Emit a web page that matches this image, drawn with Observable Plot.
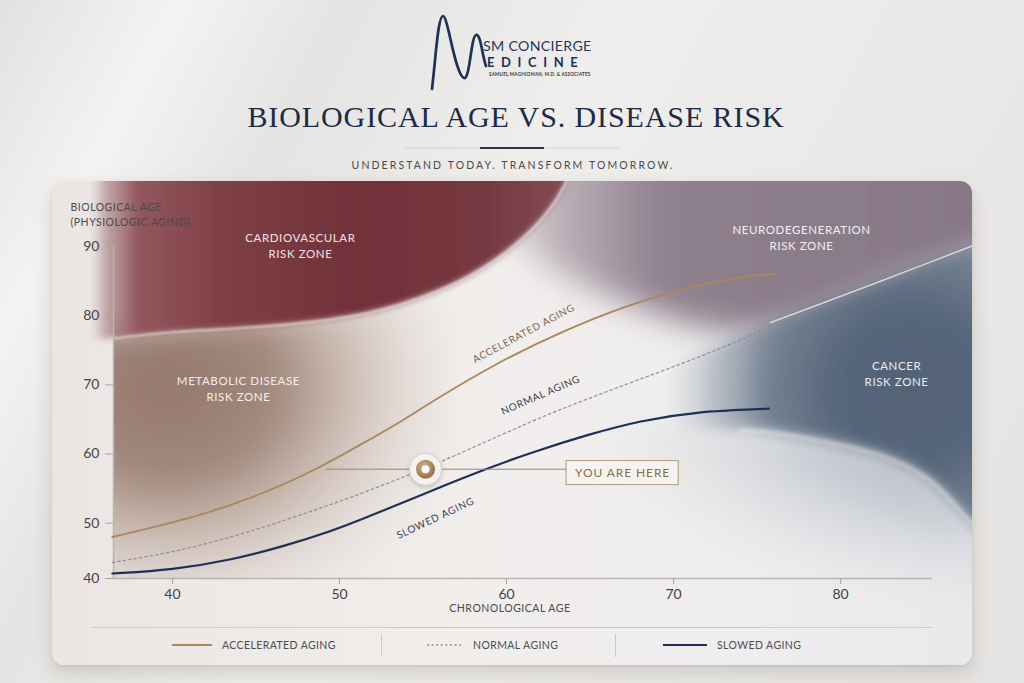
<!DOCTYPE html>
<html>
<head>
<meta charset="utf-8">
<script src="https://cdn.jsdelivr.net/npm/d3@7"></script>
<script src="https://cdn.jsdelivr.net/npm/@observablehq/plot@0.6"></script>
<style>
html,body{margin:0;padding:0;}
body{width:1024px;height:683px;overflow:hidden;position:relative;font-family:Lato,"Open Sans",sans-serif;
  background:linear-gradient(118deg,#e3e1df 0%,#f4f3f1 13%,#e6e4e2 25%,#efeeec 45%,#ebe9e7 70%,#e5e3e1 100%);}
#header{position:absolute;left:0;top:0;}
#card{position:absolute;left:52px;top:181px;width:920px;height:484px;border-radius:12px;overflow:hidden;
  background:linear-gradient(90deg,#ebe6e4 0%,#f1eeec 45%,#efedee 75%,#e9e9eb 100%);
  box-shadow:0 8px 18px rgba(60,50,40,0.17),0 1px 3px rgba(0,0,0,0.08);}
#chart{position:absolute;left:0;top:0;}
#legend{position:absolute;left:40px;top:446px;width:840px;height:38px;border-top:1px solid #cfcac6;}
.lg-item{position:absolute;top:0;height:34px;display:flex;align-items:center;}
.lg-text{font-size:10.5px;color:#4d4d4d;letter-spacing:0.4px;white-space:nowrap;}
.lg-sep{position:absolute;top:6px;width:1px;height:23px;background:#cfcac6;}
g[aria-description="zone-label"] text{letter-spacing:0.6px;}
g[aria-description="line-label"] text{letter-spacing:0.7px;}
g[aria-description="you-label"] text{letter-spacing:0.9px;}
g[aria-description="axis-title"] text{letter-spacing:0.5px;}
g[aria-description="zone-metab"]{filter:url(#fBlur14);}
g[aria-description="zone-lowblue"]{filter:url(#fBlur12);}
g[aria-description="zone-neuro"]{filter:url(#fBlur16);}
g[aria-description="zone-cardio"]{filter:url(#fBlur3);}
g[aria-description="zone-cancer"]{filter:url(#fBlur7);}
g[aria-description="rim"]{filter:url(#fBlur1);}
g[aria-description="rim-soft"]{filter:url(#fBlur2);}
g[aria-description="halo"]{filter:url(#fShadow);}
</style>
</head>
<body>
<svg width="0" height="0" style="position:absolute">
  <defs>
    <filter id="fBlur1" x="-20%" y="-20%" width="140%" height="140%"><feGaussianBlur stdDeviation="1.2"/></filter>
    <filter id="fBlur2" x="-20%" y="-20%" width="140%" height="140%"><feGaussianBlur stdDeviation="2"/></filter>
    <filter id="fBlur3" x="-20%" y="-20%" width="140%" height="140%"><feGaussianBlur stdDeviation="3"/></filter>
    <filter id="fBlur7" x="-20%" y="-20%" width="140%" height="140%"><feGaussianBlur stdDeviation="7"/></filter>
    <filter id="fBlur12" x="-30%" y="-30%" width="160%" height="160%"><feGaussianBlur stdDeviation="12"/></filter>
    <filter id="fBlur14" x="-30%" y="-30%" width="160%" height="160%"><feGaussianBlur stdDeviation="14"/></filter>
    <filter id="fBlur16" x="-30%" y="-30%" width="160%" height="160%"><feGaussianBlur stdDeviation="16"/></filter>
    <filter id="fShadow" x="-50%" y="-50%" width="200%" height="200%"><feDropShadow dx="0" dy="2" stdDeviation="2.2" flood-color="#6b5a48" flood-opacity="0.3"/></filter>
    <linearGradient id="gCardio" x1="0" x2="1" y1="0" y2="0">
      <stop offset="0" stop-color="#dccaca" stop-opacity="0"/>
      <stop offset="0.035" stop-color="#b08b8e" stop-opacity="0.7"/>
      <stop offset="0.1" stop-color="#93585e"/>
      <stop offset="0.28" stop-color="#7e3f46"/>
      <stop offset="0.56" stop-color="#723139"/>
      <stop offset="0.82" stop-color="#763840"/>
      <stop offset="1" stop-color="#844d54"/>
    </linearGradient>
    <radialGradient id="gMetab" cx="0.28" cy="0.32" r="0.78">
      <stop offset="0" stop-color="#8f7164" stop-opacity="0.95"/>
      <stop offset="0.35" stop-color="#9a7f72" stop-opacity="0.9"/>
      <stop offset="0.6" stop-color="#b9a497" stop-opacity="0.6"/>
      <stop offset="0.85" stop-color="#d8cbc2" stop-opacity="0.25"/>
      <stop offset="1" stop-color="#e2d8d1" stop-opacity="0"/>
    </radialGradient>
    <linearGradient id="gNeuro" x1="0" x2="1" y1="0" y2="0">
      <stop offset="0" stop-color="#c4b8bf" stop-opacity="0"/>
      <stop offset="0.15" stop-color="#a596a1" stop-opacity="0.7"/>
      <stop offset="0.33" stop-color="#8f808e"/>
      <stop offset="1" stop-color="#867684"/>
    </linearGradient>
    <radialGradient id="gCancer" cx="0.65" cy="0.46" r="0.72">
      <stop offset="0" stop-color="#536276"/>
      <stop offset="0.3" stop-color="#58677b"/>
      <stop offset="0.55" stop-color="#758293"/>
      <stop offset="0.76" stop-color="#a7afba" stop-opacity="0.7"/>
      <stop offset="0.95" stop-color="#d0d4d9" stop-opacity="0"/>
    </radialGradient>
    <radialGradient id="gLowBlue" cx="0.95" cy="0" r="1">
      <stop offset="0" stop-color="#97a2b0" stop-opacity="0.95"/>
      <stop offset="0.5" stop-color="#b7bec8" stop-opacity="0.7"/>
      <stop offset="1" stop-color="#dfe1e4" stop-opacity="0"/>
    </radialGradient>
    <radialGradient id="gGold" cx="0.4" cy="0.35" r="0.7">
      <stop offset="0" stop-color="#cdae84"/>
      <stop offset="0.6" stop-color="#ad8a5e"/>
      <stop offset="1" stop-color="#8e6c45"/>
    </radialGradient>
  </defs>
</svg>

<svg id="header" width="1024" height="180">
  <path d="M432,89 C436,55 438,16 443,16 C448,16 455,75 464,78 C470,80 471,36 476,35 C481,34 482,55 486,66" fill="none" stroke="#1f3158" stroke-width="2.7" stroke-linecap="round"/>
  <text x="483" y="51" font-family="Lato" font-size="14.2" fill="#26385c" letter-spacing="0.3">SM CONCIERGE</text>
  <text x="487" y="67" font-family="Lato" font-size="13" font-weight="700" fill="#1f3158" letter-spacing="6.6">EDICINE</text>
  <text x="489" y="76" font-family="Lato" font-size="4.6" font-weight="700" fill="#3a3a3a" letter-spacing="0.2">SAMUEL MAGHIOMAN, M.D. &amp; ASSOCIATES</text>
  <text id="title" x="516" y="127" text-anchor="middle" font-family="'Liberation Serif', serif" font-size="30" fill="#1f2b45" letter-spacing="0.9"></text>
  <line x1="405" x2="618" y1="148" y2="148" stroke="#d3d0cc"/>
  <line x1="480" x2="544" y1="148" y2="148" stroke="#2a3552" stroke-width="2"/>
  <text id="subtitle" x="513" y="169" text-anchor="middle" font-family="Lato" font-size="10.5" fill="#4a4a4a" letter-spacing="2.1"></text>
</svg>

<div id="card">
  <div id="chart"></div>
  <div id="legend"></div>
</div>

<script>
// ---------------- data ----------------
const titleText = "BIOLOGICAL AGE VS. DISEASE RISK";
const subtitleText = "UNDERSTAND TODAY. TRANSFORM TOMORROW.";
const yTitle = "BIOLOGICAL AGE\n(PHYSIOLOGIC AGING)";
const xTitle = "CHRONOLOGICAL AGE";

const xTicks = [40, 50, 60, 70, 80];
const yTicks = [40, 50, 60, 70, 80, 90];

const acceleratedAge = [36.4, 40, 43.6, 46.6, 48.7, 51.3, 53.5, 55.6, 59.6, 63.2, 67.2, 71.2, 74.2, 76.2];
const acceleratedBio = [47.5, 50.0, 52.6, 55.5, 57.9, 61.4, 64.4, 67.7, 73.4, 77.6, 81.5, 84.4, 85.7, 86.1];
const normalAge = [36.4, 40, 43.6, 46.6, 49.5, 51.3, 55.2, 59.6, 63.2, 67.2, 71.2, 74.2, 77.0];
const normalBio = [42.9, 44.7, 47.5, 50.3, 52.7, 54.3, 57.9, 62.7, 66.5, 70.1, 73.7, 76.6, 79.9];
const slowedAge = [36.4, 40, 43.6, 46.6, 49.6, 51.3, 55.6, 59.0, 61.4, 65.0, 68.0, 71.2, 75.7];
const slowedBio = [40.9, 41.55, 43.4, 45.75, 48.65, 50.5, 54.8, 58.05, 60.15, 62.9, 64.8, 66.1, 66.55];

const seriesNames = ["ACCELERATED AGING", "NORMAL AGING", "SLOWED AGING"];

// risk zone boundaries (chronological age, biological age)
const cardioAge = [35.0, 36.47, 40.0, 44.67, 50.66, 54.85, 57.84, 60.84, 62.93, 64.0];
const cardioLow = [76.5, 76.7, 77.6, 78.3, 79.9, 82.6, 85.8, 90.9, 96.6, 101.5];
const metabAge = [33, 36.47, 40, 44, 48, 52, 55, 57];
const metabHigh = [78, 78, 78.6, 79.4, 80.5, 82, 83.5, 85];
const neuroAge = [58, 62, 66, 70, 74, 78, 82, 87, 92];
const neuroLow = [95, 88, 83, 79.5, 77.5, 79, 83, 87.5, 92];
const cancerAge = [70, 72, 74, 75.8, 79, 82.4, 85, 86.6, 88, 90, 92];
const cancerTop = [73.0, 75.0, 77.2, 79.0, 81.9, 85.0, 87.4, 88.9, 90.2, 92.0, 93.8];
const cancerLow = [63.6, 63.6, 63.4, 63.1, 61.8, 59.8, 56.8, 53.3, 49.5, 44, 38];
const lowBlueAge = [66, 70, 74, 78, 82, 85, 87, 89, 92];
const lowBlueTop = [64.5, 64.2, 63.5, 62.6, 60.5, 57, 52.5, 46, 38];
const zoneCeil = 108;
const zoneFloor = 34;

const zoneNames = ["CARDIOVASCULAR\nRISK ZONE", "METABOLIC DISEASE\nRISK ZONE", "NEURODEGENERATION\nRISK ZONE", "CANCER\nRISK ZONE"];
const zoneLabelAge = [47.66, 43.95, 77.66, 83.35];
const zoneLabelBio = [90.3, 69.5, 91.4, 71.7];

const lineLabelAge = [61.03, 62.04, 55.75];
const lineLabelBio = [77.4, 68.5, 50.7];
const lineLabelRotate = [-28, -23.5, -25];

const youAge = 55.15, youBio = 57.8;
const youText = "YOU ARE HERE";
const leaderFrom = 49.2, leaderTo = 63.65, youLabelAge = 66.95;
const xTitleAge = 60.2;

// ---------------- build ----------------
document.getElementById("title").textContent = titleText;
document.getElementById("subtitle").textContent = subtitleText;

const zip = (a, b, k1, k2) => a.map((v, i) => ({[k1]: v, [k2]: b[i]}));
const accelerated = zip(acceleratedAge, acceleratedBio, "age", "bio");
const normal = zip(normalAge, normalBio, "age", "bio");
const slowed = zip(slowedAge, slowedBio, "age", "bio");
const cardio = cardioAge.map((a, i) => ({age: a, lo: cardioLow[i], hi: zoneCeil}));
const metab = metabAge.map((a, i) => ({age: a, lo: zoneFloor, hi: metabHigh[i]}));
const neuro = neuroAge.map((a, i) => ({age: a, lo: neuroLow[i], hi: zoneCeil}));
const cancer = cancerAge.map((a, i) => ({age: a, lo: cancerLow[i], hi: cancerTop[i]}));
const lowBlue = lowBlueAge.map((a, i) => ({age: a, lo: zoneFloor, hi: lowBlueTop[i]}));
const zoneLabels = zoneNames.map((n, i) => ({name: n, age: zoneLabelAge[i], bio: zoneLabelBio[i]}));
const lineLabels = seriesNames.map((n, i) => ({name: n, age: lineLabelAge[i], bio: lineLabelBio[i], rot: lineLabelRotate[i]}));
const you = [{age: youAge, bio: youBio}];

const W = 920, H = 446, mL = 61, mR = 40, mT = 65, mB = 49;
const xDomain = [36.47, 85.5];
// the reference's y axis is piecewise: 40→50 is drawn shorter than each later decade
const yKnots = d3.range(40, 50, 2.5).concat(d3.range(50, 90.001, 2));
const frameColor = "#b9b4b0";

const chart = Plot.plot({
  width: W, height: H,
  marginLeft: mL, marginRight: mR, marginTop: mT, marginBottom: mB,
  x: {domain: xDomain},
  y: {type: "linear", domain: yKnots},
  style: {background: "transparent", fontFamily: "Lato, 'Open Sans', sans-serif", color: "#444", overflow: "hidden"},
  marks: [
    Plot.areaY(metab, {x: "age", y1: "lo", y2: "hi", fill: "url(#gMetab)", curve: "natural", clip: true, ariaDescription: "zone-metab"}),
    Plot.areaY(lowBlue, {x: "age", y1: "lo", y2: "hi", fill: "url(#gLowBlue)", curve: "natural", ariaDescription: "zone-lowblue"}),
    Plot.areaY(neuro, {x: "age", y1: "lo", y2: "hi", fill: "url(#gNeuro)", curve: "natural", ariaDescription: "zone-neuro"}),
    Plot.areaY(cardio, {x: "age", y1: "lo", y2: "hi", fill: "url(#gCardio)", curve: "natural", ariaDescription: "zone-cardio"}),
    Plot.areaY(cancer, {x: "age", y1: "lo", y2: "hi", fill: "url(#gCancer)", curve: "natural", ariaDescription: "zone-cancer"}),
    Plot.line(cardio.filter(d => d.age >= 36.47), {x: "age", y: "lo", stroke: "white", strokeOpacity: 0.6, strokeWidth: 2.2, curve: "natural", ariaDescription: "rim"}),
    Plot.line(cancer.filter(d => d.age >= 74), {x: "age", y: "lo", stroke: "white", strokeOpacity: 0.65, strokeWidth: 2.6, curve: "natural", ariaDescription: "rim-soft"}),
    Plot.line(cancer.filter(d => d.age >= 75.8), {x: "age", y: "hi", stroke: "white", strokeOpacity: 0.75, strokeWidth: 1.3, ariaDescription: "rim-line"}),

    Plot.ruleX([xDomain[0]], {y1: () => 40, y2: () => 90, stroke: frameColor, strokeWidth: 1.5}),
    Plot.ruleY([40], {x1: () => xDomain[0], x2: () => xDomain[1], stroke: frameColor, strokeWidth: 1.5}),
    Plot.axisY(yTicks, {tickSize: 8, tickPadding: 6, fontSize: 14, stroke: "#a9a4a0", fill: "#444", label: null}),
    Plot.axisX(xTicks, {tickSize: 6, tickPadding: 5, fontSize: 14, stroke: "#a9a4a0", fill: "#444", label: null}),

    Plot.text([yTitle], {text: d => d, frameAnchor: "top-left", dx: -43, dy: -46, lineAnchor: "top", textAnchor: "start", lineHeight: 1.43, fontSize: 10.5, fill: "#4a4a4a", ariaDescription: "axis-title"}),
    Plot.text([xTitle], {text: d => d, x: () => xTitleAge, frameAnchor: "bottom", dy: 33, fontSize: 10.5, fill: "#4a4a4a", ariaDescription: "axis-title"}),

    Plot.line(accelerated, {x: "age", y: "bio", stroke: "#a8885c", strokeWidth: 1.8, curve: "basis"}),
    Plot.line(normal, {x: "age", y: "bio", stroke: "#8c8c90", strokeWidth: 1.2, strokeDasharray: "2.5,3", curve: "basis"}),
    Plot.line(slowed, {x: "age", y: "bio", stroke: "#1e3058", strokeWidth: 2.2, curve: "basis"}),

    Plot.text(zoneLabels, {x: "age", y: "bio", text: "name", fontSize: 11.5, lineHeight: 1.39, fill: (d, i) => ["#efe4e4", "#f4eeea", "#f3eff2", "#e8edf2"][i], ariaDescription: "zone-label"}),
    Plot.text(lineLabels, {x: "age", y: "bio", text: "name", rotate: "rot", fontSize: 10, fill: (d, i) => ["#7d6550", "#3d4150", "#2d3e63"][i], ariaDescription: "line-label"}),

    Plot.ruleY(you, {y: "bio", x1: () => leaderFrom, x2: () => leaderTo, stroke: "#9a8670", strokeWidth: 1}),
    Plot.dot(you, {x: "age", y: "bio", r: 16, fill: "#f4f2ef", stroke: "#d8d1c9", strokeWidth: 1, ariaDescription: "halo"}),
    Plot.dot(you, {x: "age", y: "bio", r: 9.5, fill: "url(#gGold)"}),
    Plot.dot(you, {x: "age", y: "bio", r: 4, fill: "#fbfaf8"}),
    Plot.text(you, {x: () => youLabelAge, y: "bio", dy: 4, text: () => youText, fontSize: 12, fill: "#8a6c4c", ariaDescription: "you-label"})
  ]
});
document.getElementById("chart").append(chart);

// box around "YOU ARE HERE"
const lab = chart.querySelector('g[aria-description="you-label"] text');
if (lab) {
  const bb = lab.getBBox();
  const r = document.createElementNS("http://www.w3.org/2000/svg", "rect");
  const cy = bb.y + bb.height / 2;
  r.setAttribute("x", bb.x - 9);
  r.setAttribute("width", bb.width + 17);
  r.setAttribute("y", cy - 12);
  r.setAttribute("height", 24);
  r.setAttribute("fill", "#f7f5f2");
  r.setAttribute("fill-opacity", "0.75");
  r.setAttribute("stroke", "#b39b7d");
  r.setAttribute("stroke-width", "1");
  if (lab.getAttribute("transform")) r.setAttribute("transform", lab.getAttribute("transform"));
  lab.parentNode.insertBefore(r, lab);
}

// legend
const legendStyle = [
  {left: 80, color: "#a8885c", dash: null, w: 2, len: 40},
  {left: 335, color: "#8c8c90", dash: "2,2.6", w: 1.3, len: 36},
  {left: 571, color: "#1e3058", dash: null, w: 2.2, len: 44}
];
const legend = document.getElementById("legend");
seriesNames.forEach((name, i) => {
  const s = legendStyle[i];
  const item = document.createElement("div");
  item.className = "lg-item";
  item.style.left = s.left + "px";
  item.innerHTML = `<svg width="${s.len + 10}" height="10"><line x1="0" x2="${s.len}" y1="5" y2="5" stroke="${s.color}" stroke-width="${s.w}" ${s.dash ? `stroke-dasharray="${s.dash}"` : ""}/></svg><span class="lg-text">${name}</span>`;
  legend.append(item);
});
[289, 523].forEach(x => {
  const sep = document.createElement("div");
  sep.className = "lg-sep";
  sep.style.left = x + "px";
  legend.append(sep);
});
</script>
</body>
</html>
